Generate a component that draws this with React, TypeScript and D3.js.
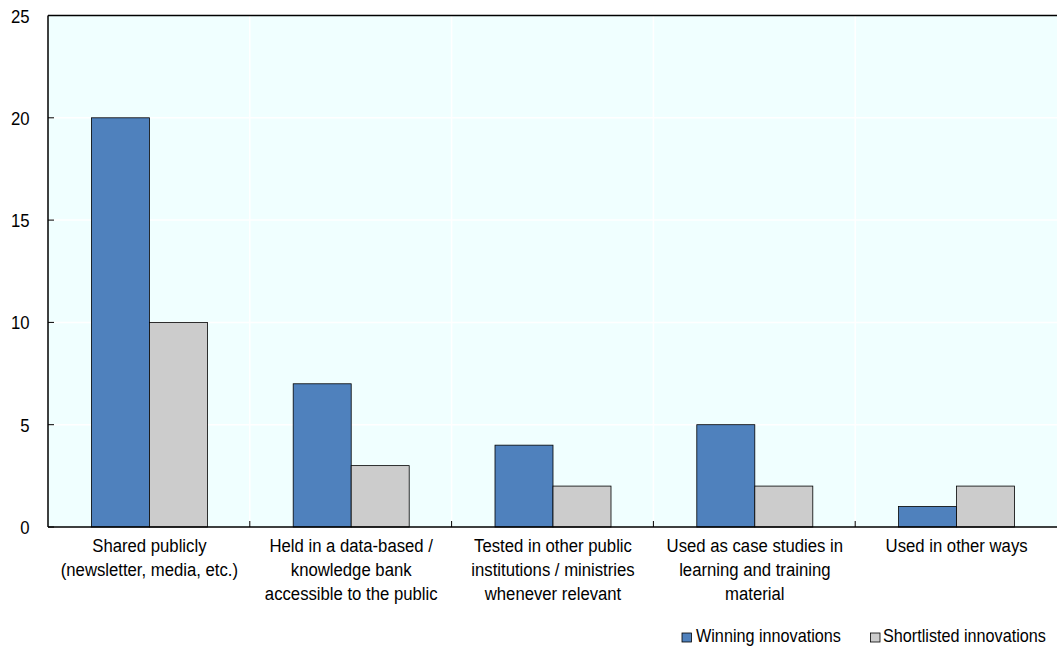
import React from "react";
import * as d3 from "d3";

const categories: string[][] = [
  ["Shared publicly", "(newsletter, media, etc.)"],
  ["Held in a data-based /", "knowledge bank", "accessible to the public"],
  ["Tested in other public", "institutions / ministries", "whenever relevant"],
  ["Used as case studies in", "learning and training", "material"],
  ["Used in other ways"],
];
const seriesNames = ["Winning innovations", "Shortlisted innovations"];
const winning = [20, 7, 4, 5, 1];
const shortlisted = [10, 3, 2, 2, 2];
const yTicks = [0, 5, 10, 15, 20, 25];
const colors = ["#4F81BD", "#CCCCCC"];

const W = 1057;
const H = 649;
const left = 48;
const right = 1057;
const top = 15.5;
const bottom = 527;
const font = "'Liberation Sans', Arial, sans-serif";
const FS = 19;
const SX = 0.88;
const LFS = 18;
const LSX = 0.9;

export default function App() {
  const idx = categories.map((_, i) => String(i));
  const x0 = d3.scaleBand<string>().domain(idx).range([left, right]).padding(0);
  const y = d3.scaleLinear().domain([0, 25]).range([bottom, top]);
  const barW = 58;
  const x1 = d3
    .scaleBand<string>()
    .domain(seriesNames)
    .range([-barW, barW])
    .padding(0);
  const values = [winning, shortlisted];
  const legendPos = [
    { sq: 682, tx: 696 },
    { sq: 870.5, tx: 883 },
  ];

  return (
    <svg
      width={W}
      height={H}
      style={{ position: "absolute", left: 0, top: 0, background: "#fff" }}
      fontFamily={font}
    >
      <rect x={left} y={top} width={right - left} height={bottom - top} fill="#F0FFFF" />
      {yTicks.filter((t) => t > 0 && t < 25).map((t) => (
        <line key={"g" + t} x1={left} x2={right} y1={y(t)} y2={y(t)} stroke="#fff" strokeWidth={1.5} />
      ))}
      {idx.slice(1).map((c) => (
        <line key={"v" + c} x1={x0(c)!} x2={x0(c)!} y1={top} y2={bottom} stroke="#fff" strokeWidth={1.5} />
      ))}
      {idx.map((c, i) =>
        seriesNames.map((s, j) => {
          const cx = x0(c)! + x0.bandwidth() / 2 + 0.5;
          const v = values[j][i];
          return (
            <rect
              key={c + s}
              x={cx + x1(s)!}
              y={y(v)}
              width={x1.bandwidth()}
              height={bottom - y(v)}
              fill={colors[j]}
              stroke="#000"
              strokeWidth={0.8}
            />
          );
        })
      )}
      <line x1={left} x2={right} y1={top} y2={top} stroke="#000" strokeWidth={1.5} />
      <line x1={left} x2={left} y1={top} y2={bottom} stroke="#000" strokeWidth={1.5} />
      <line x1={left} x2={right} y1={bottom} y2={bottom} stroke="#000" strokeWidth={1.5} />
      {yTicks.map((t) => (
        <g key={"t" + t}>
          <line x1={left} x2={left + 6} y1={y(t)} y2={y(t)} stroke="#000" strokeWidth={1} />
          <text
            transform={`translate(29.5,${y(t) + 7}) scale(${SX},1)`}
            textAnchor="end"
            fontSize={FS}
            fill="#000"
          >
            {t}
          </text>
        </g>
      ))}
      {idx.slice(1).map((c) => (
        <line key={"xt" + c} x1={x0(c)!} x2={x0(c)!} y1={bottom} y2={bottom - 6} stroke="#000" strokeWidth={1} />
      ))}
      {idx.map((c, i) => (
        <text
          key={"l" + c}
          transform={`translate(${x0(c)! + x0.bandwidth() / 2 + 0.5},0) scale(${SX},1)`}
          textAnchor="middle"
          fontSize={FS}
          fill="#000"
        >
          {categories[i].map((line, k) => (
            <tspan key={k} x={0} y={552.5 + k * 24}>
              {line}
            </tspan>
          ))}
        </text>
      ))}
      {seriesNames.map((s, j) => (
        <g key={"lg" + s}>
          <rect
            x={legendPos[j].sq}
            y={633}
            width={9.5}
            height={9}
            fill={colors[j]}
            stroke="#000"
            strokeWidth={0.8}
          />
          <text
            transform={`translate(${legendPos[j].tx},642) scale(${LSX},1)`}
            fontSize={LFS}
            fill="#000"
          >
            {s}
          </text>
        </g>
      ))}
    </svg>
  );
}
